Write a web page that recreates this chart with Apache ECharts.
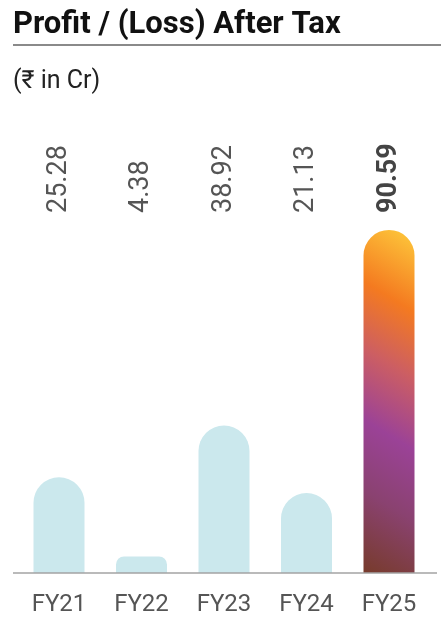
<!DOCTYPE html>
<html>
<head>
<meta charset="utf-8">
<script src="https://cdn.jsdelivr.net/npm/echarts@6/dist/echarts.min.js"></script>
<style>
    html, body { margin: 0; padding: 0; background: #fff; }
    #main { width: 441px; height: 618px; }
</style>
</head>
<body>
<div id="main"></div>
<script>
// 数据
const categories = ['FY21', 'FY22', 'FY23', 'FY24', 'FY25'];
const values = [25.28, 4.38, 38.92, 21.13, 90.59];
const valueLabels = ['25.28', '4.38', '38.92', '21.13', '90.59'];

const font = 'Roboto, "Noto Sans", sans-serif';
const lightBar = '#cbe8ed';

// 最后一年使用渐变色
const highlight = new echarts.graphic.LinearGradient(1, 0, -2.235, 0.8, [
    { offset: 0, color: '#fecb3c' },
    { offset: 0.22, color: '#f47a20' },
    { offset: 0.40, color: '#cc5e63' },
    { offset: 0.59, color: '#9b4297' },
    { offset: 0.78, color: '#8a4270' },
    { offset: 1, color: '#773b2b' }
]);

const barData = values.map(function (v, i) {
    const last = i === values.length - 1;
    return {
        value: v,
        itemStyle: {
            color: last ? highlight : lightBar,
            borderRadius: v < 10 ? [8, 8, 0, 0] : [26, 26, 0, 0]
        }
    };
});

const myChart = echarts.init(document.getElementById('main'));

const option = {
    animation: false,
    title: [{
        text: 'Profit / (Loss) After Tax',
        left: 13,
        top: 10,
        padding: 0,
        textStyle: { fontFamily: font, fontSize: 31, fontWeight: 'bold', color: '#111' }
    }, {
        text: '(₹ in Cr)',
        left: 13,
        top: 69,
        padding: 0,
        textStyle: { fontFamily: font, fontSize: 25, fontWeight: 'normal', color: '#222' }
    }],
    graphic: [{
        type: 'rect',
        shape: { x: 13, y: 44, width: 428, height: 2 },
        style: { fill: '#8a8a8a' }
    }, {
        type: 'line',
        shape: { x1: 13, y1: 573, x2: 437, y2: 573 },
        style: { stroke: '#a3a3a3', lineWidth: 1.5 },
        z: 10
    }],
    grid: { left: 17.75, right: 10.75, top: 217, bottom: 45 },
    xAxis: [{
        type: 'category',
        data: categories,
        position: 'bottom',
        axisLine: { show: false },
        axisTick: { show: false },
        axisLabel: { margin: 20, fontFamily: font, fontSize: 24, color: '#555' }
    }, {
        type: 'category',
        data: valueLabels,
        position: 'top',
        axisLine: { show: false },
        axisTick: { show: false },
        axisLabel: {
            rotate: -90,
            margin: 4,
            fontFamily: font,
            fontSize: 27,
            color: '#555',
            formatter: function (val, idx) {
                return idx === valueLabels.length - 1 ? '{b|' + val + '}' : val;
            },
            rich: {
                b: { fontFamily: font, fontSize: 27, fontWeight: 'bold', color: '#444' }
            }
        }
    }],
    yAxis: {
        type: 'value',
        min: 0,
        max: 94,
        show: false,
        splitLine: { show: false }
    },
    series: [{
        type: 'bar',
        data: barData,
        barWidth: 51,
        xAxisIndex: 0
    }]
};

myChart.setOption(option);
</script>
</body>
</html>
